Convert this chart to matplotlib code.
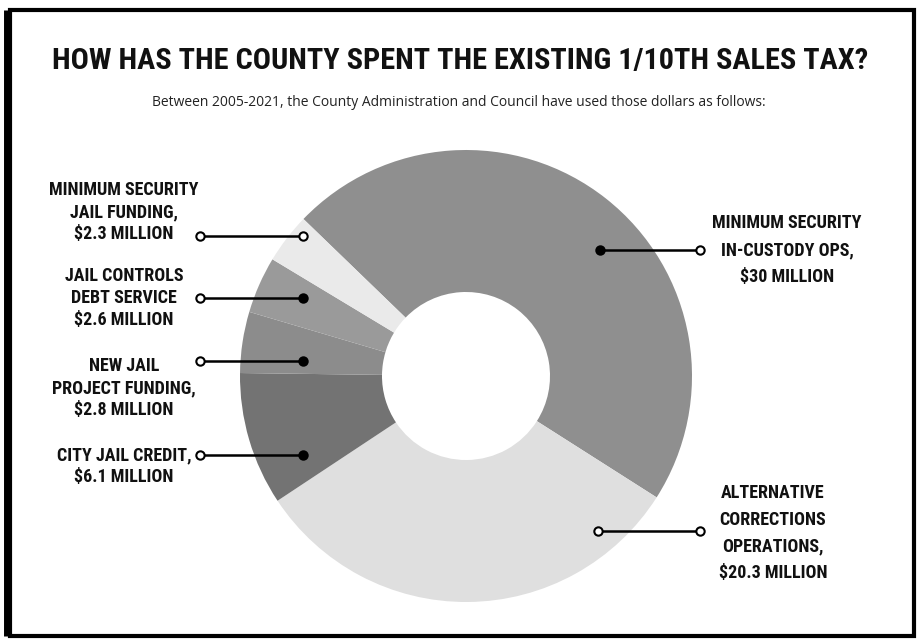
import matplotlib
matplotlib.use("Agg")
import matplotlib.pyplot as plt
from matplotlib.patches import Rectangle

# slice data, clockwise from the upper-left gap
categories = ["MINIMUM SECURITY\nIN-CUSTODY OPS,\n$30 MILLION",
              "ALTERNATIVE\nCORRECTIONS\nOPERATIONS,\n$20.3 MILLION",
              "CITY JAIL CREDIT,\n$6.1 MILLION",
              "NEW JAIL\nPROJECT FUNDING,\n$2.8 MILLION",
              "JAIL CONTROLS\nDEBT SERVICE\n$2.6 MILLION",
              "MINIMUM SECURITY\nJAIL FUNDING,\n$2.3 MILLION"]
values = [30, 20.3, 6.1, 2.8, 2.6, 2.3]
colors = ["#8f8f8f", "#dfdfdf", "#737373", "#8c8c8c", "#9a9a9a", "#eaeaea"]

title = "HOW HAS THE COUNTY SPENT THE EXISTING 1/10TH SALES TAX?"
subtitle = "Between 2005-2021, the County Administration and Council have used those dollars as follows:"

W, H = 917, 640
cond = ["Roboto Condensed", "DejaVu Sans"]

fig = plt.figure(figsize=(W / 100, H / 100), dpi=100)
ax = fig.add_axes([0, 0, 1, 1])

def py(y):
    # pixel row -> data y
    return H - y

ax.pie(values, colors=colors, startangle=136, counterclock=False,
       center=(466, py(376)), radius=226, frame=True,
       wedgeprops=dict(width=142, linewidth=0))
ax.set_xlim(0, W)
ax.set_ylim(0, H)
ax.axis("off")

# frame
ax.add_patch(Rectangle((10, py(636)), 904, 626, fill=False, edgecolor="black", linewidth=3))
ax.plot([7, 7], [py(10), py(636)], color="black", linewidth=5, solid_capstyle="butt")

ax.text(W / 2 + 2, py(61), title, ha="center", va="center", fontsize=21.8,
        fontweight="bold", family=cond, color="#111111")
ax.text(W / 2, py(102), subtitle, ha="center", va="center", fontsize=10,
        family=["Open Sans", "DejaVu Sans"], color="#222222")

# label layout: (text x, text y, line from, line to, line spacing)
layout = [
    (787, 250, (600, 250), (700, 250), 1.62),
    (773, 533, (598, 531), (700, 531), 1.62),
    (124, 466, (303, 455), (200, 455), 1.27),
    (124, 388, (303, 361), (200, 361), 1.27),
    (124, 298, (303, 298), (200, 298), 1.27),
    (124, 212, (303, 236), (200, 236), 1.27),
]
filled_inner = [True, False, True, True, True, False]

for lab, (tx, ty, p0, p1, ls), fin in zip(categories, layout, filled_inner):
    ax.plot([p0[0], p1[0]], [py(p0[1]), py(p1[1])], color="black", linewidth=1.8)
    ax.plot(p0[0], py(p0[1]), marker="o", markersize=6,
            markerfacecolor="black" if fin else "white",
            markeredgecolor="black", markeredgewidth=1.5)
    ax.plot(p1[0], py(p1[1]), marker="o", markersize=6,
            markerfacecolor="white", markeredgecolor="black", markeredgewidth=1.5)
    ax.text(tx, py(ty), lab, ha="center", va="center", fontsize=13,
            fontweight="bold", family=cond, linespacing=ls, color="#111111")

fig.savefig("out.png", dpi=100, facecolor="white")
